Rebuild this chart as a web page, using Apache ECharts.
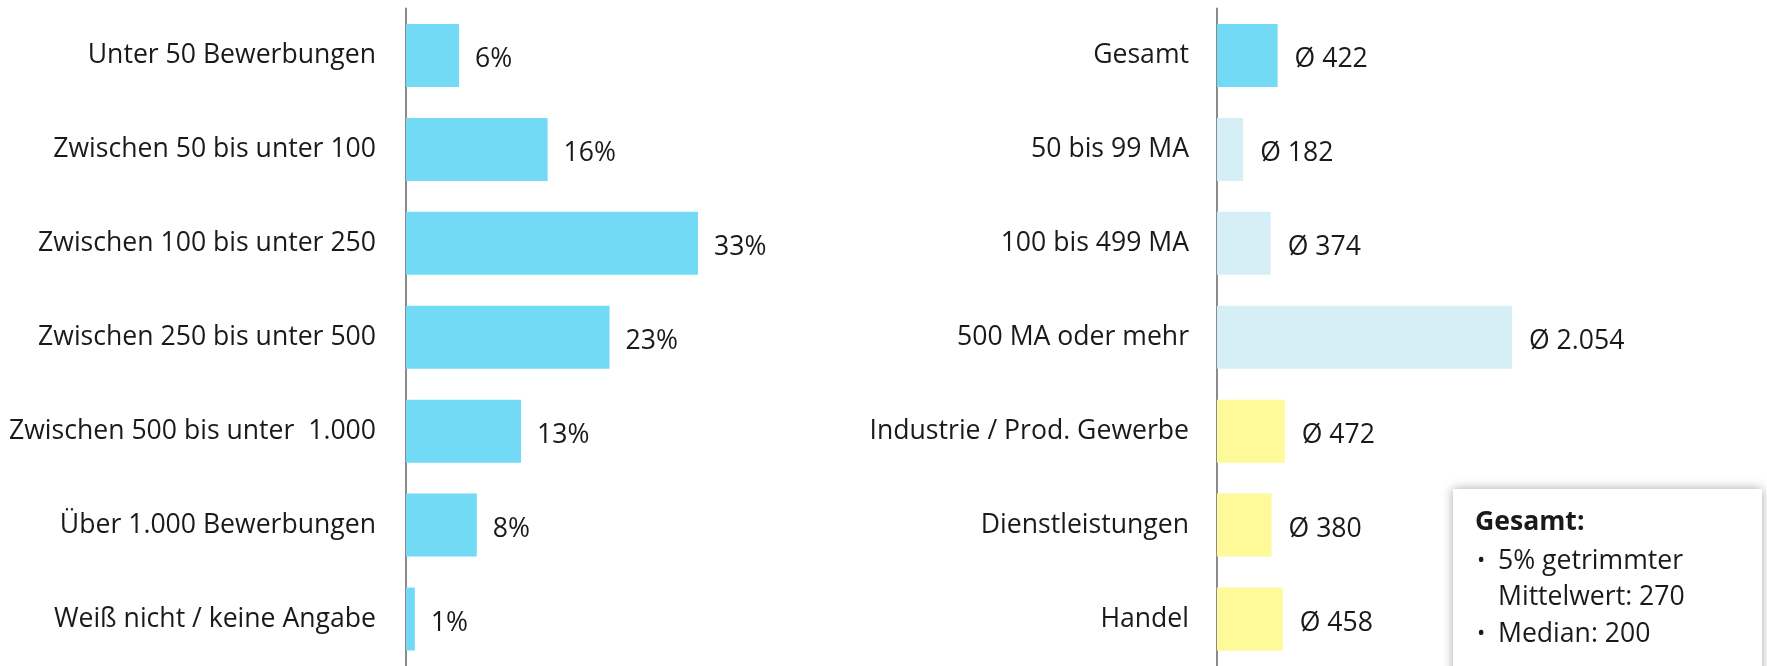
<!DOCTYPE html>
<html>
<head>
<meta charset="utf-8">
<script src="https://cdn.jsdelivr.net/npm/echarts@6/dist/echarts.min.js"></script>
<style>
  html, body { margin: 0; padding: 0; background: #fff; }
  #main { width: 1767px; height: 666px; }
</style>
</head>
<body>
<div id="main"></div>
<script>
// left chart: number of applications
const leftCategories = [
  "Unter 50 Bewerbungen",
  "Zwischen 50 bis unter 100",
  "Zwischen 100 bis unter 250",
  "Zwischen 250 bis unter 500",
  "Zwischen 500 bis unter  1.000",
  "Über 1.000 Bewerbungen",
  "Weiß nicht / keine Angabe"
];
const leftValues = [6, 16, 33, 23, 13, 8, 1];

// right chart: average by group
const rightCategories = [
  "Gesamt",
  "50 bis 99 MA",
  "100 bis 499 MA",
  "500 MA oder mehr",
  "Industrie / Prod. Gewerbe",
  "Dienstleistungen",
  "Handel"
];
const rightValues = [422, 182, 374, 2054, 472, 380, 458];
const rightColors = ["#72daf5", "#d6eff6", "#d6eff6", "#d6eff6", "#fffa99", "#fffa99", "#fffa99"];

const boxTitle = "Gesamt:";
const boxLines = ["5% getrimmter", "Mittelwert: 270", "Median: 200"];

const font = "'Open Sans', sans-serif";
const fs = 26.6;
const textColor = "#1a1a1a";

function deNumber(v) {
  return String(v).replace(/\B(?=(\d{3})+(?!\d))/g, ".");
}

let chart = echarts.init(document.getElementById("main"));

const catAxis = (idx, cats, margin) => ({
  type: "category",
  gridIndex: idx,
  data: cats,
  inverse: true,
  axisTick: { show: false },
  axisLine: { show: true, lineStyle: { color: "#8a8a8a", width: 2 } },
  axisLabel: {
    fontSize: fs,
    fontFamily: font,
    color: textColor,
    margin: margin,
    padding: [5, 0, 0, 0]
  }
});

const valAxis = (idx, max) => ({
  type: "value",
  gridIndex: idx,
  min: 0,
  max: max,
  show: false,
  splitLine: { show: false }
});

const barLabel = (fmt, dist) => ({
  show: true,
  position: "right",
  distance: dist,
  offset: [0, 4],
  fontSize: fs,
  fontFamily: font,
  color: textColor,
  formatter: fmt
});

chart.setOption({
  animation: false,
  backgroundColor: "#fff",
  grid: [
    { left: 406, top: 8.5, width: 354, height: 661.5 },
    { left: 1217, top: 8.5, width: 359, height: 661.5 }
  ],
  xAxis: [valAxis(0, 40), valAxis(1, 2500)],
  yAxis: [catAxis(0, leftCategories, 30), catAxis(1, rightCategories, 28)],
  series: [
    {
      type: "bar",
      xAxisIndex: 0,
      yAxisIndex: 0,
      data: leftValues,
      barWidth: 63,
      itemStyle: { color: "#72daf5" },
      label: barLabel((p) => p.value + "%", 16)
    },
    {
      type: "bar",
      xAxisIndex: 1,
      yAxisIndex: 1,
      data: rightValues.map((v, i) => ({ value: v, itemStyle: { color: rightColors[i] } })),
      barWidth: 63,
      label: barLabel((p) => "Ø " + deNumber(p.value), 17)
    }
  ],
  graphic: [
    {
      type: "rect",
      left: 1453,
      top: 489,
      shape: { width: 309, height: 200 },
      style: { fill: "#fff", shadowBlur: 10, shadowColor: "rgba(0,0,0,0.35)" },
      z: 10
    },
    {
      type: "text",
      x: 1475,
      y: 522,
      z: 11,
      style: { text: boxTitle, font: "bold " + fs + "px " + font, fill: textColor, verticalAlign: "middle" }
    },
    {
      type: "text",
      x: 1477,
      y: 561,
      z: 11,
      style: { text: "•", font: "22px " + font, fill: textColor, verticalAlign: "middle" }
    },
    {
      type: "text",
      x: 1477,
      y: 634,
      z: 11,
      style: { text: "•", font: "22px " + font, fill: textColor, verticalAlign: "middle" }
    },
    {
      type: "text",
      x: 1498,
      y: 561,
      z: 11,
      style: { text: boxLines[0], font: fs + "px " + font, fill: textColor, verticalAlign: "middle" }
    },
    {
      type: "text",
      x: 1498,
      y: 597,
      z: 11,
      style: { text: boxLines[1], font: fs + "px " + font, fill: textColor, verticalAlign: "middle" }
    },
    {
      type: "text",
      x: 1498,
      y: 634,
      z: 11,
      style: { text: boxLines[2], font: fs + "px " + font, fill: textColor, verticalAlign: "middle" }
    }
  ]
});
</script>
</body>
</html>
